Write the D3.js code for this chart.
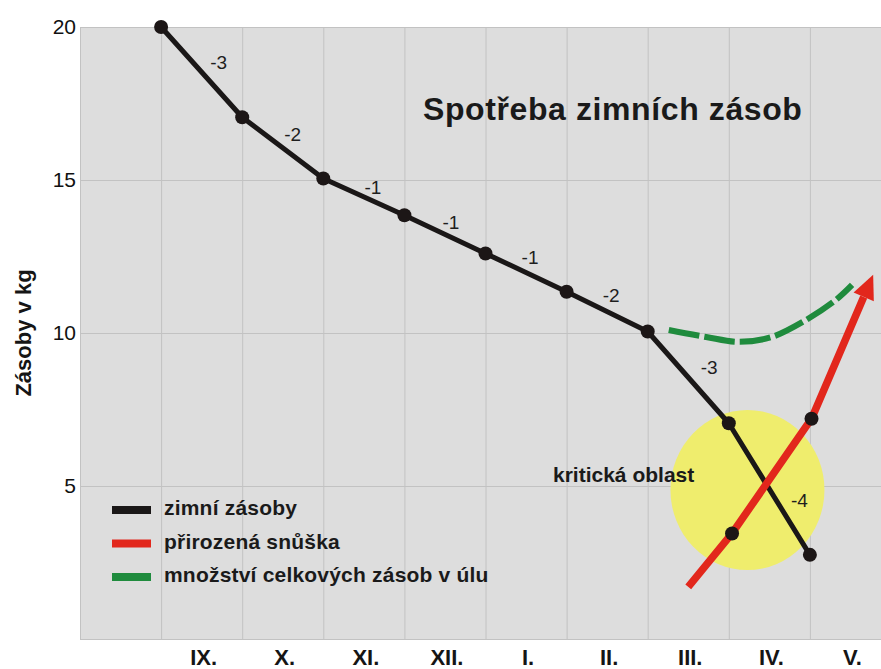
<!DOCTYPE html>
<html>
<head>
<meta charset="utf-8">
<title>Spotřeba zimních zásob</title>
<style>
    body { margin: 0; background: #fff; }
    svg { display: block; font-family: "Liberation Sans", Arial, sans-serif; }
</style>
<script src="https://d3js.org/d3.v7.min.js"></script>
</head>
<body>
<svg id="chart" width="881" height="669"></svg>
<script>
// months on the x axis (first column has no label)
var months = ["IX.", "X.", "XI.", "XII.", "I.", "II.", "III.", "IV.", "V."];
var yTicks = [5, 10, 15, 20];

// winter stores, one point at the start of each month
var storeMonth = [0, 1, 2, 3, 4, 5, 6, 7, 8];
var storeKg = [20, 17.05, 15.05, 13.85, 12.6, 11.35, 10.05, 7.05, 2.75];
var storeDiff = ["-3", "-2", "-1", "-1", "-1", "-2", "-3", "-4"];

// natural nectar flow (red arrow)
var flowMonth = [6.5, 7.04, 8.02, 8.78];
var flowKg = [1.7, 3.45, 7.2, 11.9];
var flowDots = [1, 2];

// total stores in the hive (green dashed)
var totalMonth = [6.26, 6.72, 7.13, 7.53, 7.93, 8.32, 8.52];
var totalKg = [10.1, 9.87, 9.71, 9.87, 10.39, 11.08, 11.57];

// critical area
var criticalMonth = 7.23;
var criticalKg = 4.87;

var legendLabels = ["zimní zásoby", "přirozená snůška", "množství celkových zásob v úlu"];
var legendColors = ["#1a1717", "#e2271c", "#1f8b3d"];

var svg = d3.select("#chart");
var plotLeft = 80, plotTop = 27, plotRight = 891, plotBottom = 639;

var x = d3.scaleLinear().domain([-1, 9]).range([plotLeft, plotRight]);
var y = d3.scaleLinear().domain([0, 20]).range([plotBottom, plotTop]);
var xBand = d3.scaleBand().domain(months).range([x(0), x(9)]);

// plot background
svg.append("rect")
    .attr("x", plotLeft).attr("y", plotTop)
    .attr("width", plotRight - plotLeft).attr("height", plotBottom - plotTop)
    .attr("fill", "#dddddd");

// grid
svg.append("g")
    .attr("transform", "translate(0," + plotBottom + ")")
    .call(d3.axisBottom(x).tickValues(d3.range(-1, 10)).tickSize(-(plotBottom - plotTop)).tickFormat(""))
    .call(function(g) { g.select(".domain").remove(); })
    .selectAll("line").attr("stroke", "#c2c2c2");

svg.append("g")
    .attr("transform", "translate(" + plotLeft + ",0)")
    .call(d3.axisLeft(y).tickValues([0, 5, 10, 15, 20]).tickSize(-(plotRight - plotLeft)).tickFormat(""))
    .call(function(g) { g.select(".domain").remove(); })
    .selectAll("line").attr("stroke", "#c2c2c2");

// y tick labels
svg.append("g")
    .attr("transform", "translate(" + plotLeft + ",0)")
    .call(d3.axisLeft(y).tickValues(yTicks).tickSize(0).tickPadding(4))
    .call(function(g) { g.select(".domain").remove(); })
    .selectAll("text")
    .attr("font-size", "21px")
    .attr("font-family", "'Liberation Sans', Arial, sans-serif")
    .attr("fill", "#111");

// x labels
svg.append("g")
    .attr("transform", "translate(2," + plotBottom + ")")
    .call(d3.axisBottom(xBand).tickSize(0).tickPadding(10))
    .call(function(g) { g.select(".domain").remove(); })
    .selectAll("text")
    .attr("font-size", "22px")
    .attr("font-weight", "bold")
    .attr("font-family", "'Liberation Sans', Arial, sans-serif")
    .attr("fill", "#151515");

// y title
svg.append("text")
    .attr("transform", "translate(31," + y(10) + ") rotate(-90)")
    .attr("text-anchor", "middle")
    .attr("font-size", "22px")
    .attr("font-weight", "bold")
    .attr("fill", "#151515")
    .text("Zásoby v kg");

// critical area
svg.append("ellipse")
    .attr("cx", x(criticalMonth))
    .attr("cy", y(criticalKg))
    .attr("rx", 77)
    .attr("ry", 80)
    .attr("fill", "#efed6d");

// green dashed curve
var totalData = totalMonth.map(function(m, i) { return [m, totalKg[i]]; });
svg.append("path")
    .datum(totalData)
    .attr("fill", "none")
    .attr("stroke", legendColors[2])
    .attr("stroke-width", 6)
    .attr("stroke-dasharray", "31,5")
    .attr("d", d3.line()
        .x(function(d) { return x(d[0]); })
        .y(function(d) { return y(d[1]); })
        .curve(d3.curveCatmullRom));

// black stores line
var storeData = storeMonth.map(function(m, i) { return [m, storeKg[i]]; });
svg.append("path")
    .datum(storeData)
    .attr("fill", "none")
    .attr("stroke", legendColors[0])
    .attr("stroke-width", 5)
    .attr("stroke-linejoin", "round")
    .attr("d", d3.line()
        .x(function(d) { return x(d[0]); })
        .y(function(d) { return y(d[1]); }));

// red arrow: shorten the line so the head carries the tip
var flowPx = flowMonth.map(function(m, i) { return [x(m), y(flowKg[i])]; });
var tip = flowPx[flowPx.length - 1];
var prev = flowPx[flowPx.length - 2];
var dx = tip[0] - prev[0], dy = tip[1] - prev[1];
var len = Math.sqrt(dx * dx + dy * dy);
var ux = dx / len, uy = dy / len;
var headLen = 24, headHalf = 11;
var base = [tip[0] - ux * headLen, tip[1] - uy * headLen];
var linePx = flowPx.slice(0, -1).concat([base]);

svg.append("path")
    .attr("fill", "none")
    .attr("stroke", legendColors[1])
    .attr("stroke-width", 7.5)
    .attr("stroke-linejoin", "round")
    .attr("d", d3.line()(linePx));

svg.append("path")
    .attr("fill", legendColors[1])
    .attr("d", d3.line()([
        tip,
        [base[0] - uy * headHalf, base[1] + ux * headHalf],
        [base[0] + uy * headHalf, base[1] - ux * headHalf]
    ]) + "Z");

// dots
svg.append("g")
    .selectAll("circle")
    .data(storeData)
    .enter()
    .append("circle")
    .attr("cx", function(d) { return x(d[0]); })
    .attr("cy", function(d) { return y(d[1]); })
    .attr("r", 7)
    .attr("fill", "#1c1616");

svg.append("g")
    .selectAll("circle")
    .data(flowDots)
    .enter()
    .append("circle")
    .attr("cx", function(d) { return x(flowMonth[d]); })
    .attr("cy", function(d) { return y(flowKg[d]); })
    .attr("r", 7)
    .attr("fill", "#1c1616");

// difference labels next to each segment
var diffNudge = [[17, -10], [10, -14], [9, -10], [6, -12], [4, -15], [4, -16], [21, -10], [30, 11]];
svg.append("g")
    .selectAll("text")
    .data(storeDiff)
    .enter()
    .append("text")
    .attr("x", function(d, i) { return (x(storeMonth[i]) + x(storeMonth[i + 1])) / 2 + diffNudge[i][0]; })
    .attr("y", function(d, i) { return (y(storeKg[i]) + y(storeKg[i + 1])) / 2 + diffNudge[i][1]; })
    .attr("dy", "0.36em")
    .attr("text-anchor", "middle")
    .attr("font-size", "19px")
    .attr("fill", "#1e1e1e")
    .text(function(d) { return d; });

// critical area label
svg.append("text")
    .attr("x", 553)
    .attr("y", 482)
    .attr("font-size", "21px")
    .attr("font-weight", "bold")
    .attr("fill", "#1a1a1a")
    .text("kritická oblast");

// title
svg.append("text")
    .attr("x", 423)
    .attr("y", 120)
    .attr("font-size", "32px")
    .attr("font-weight", "bold")
    .attr("letter-spacing", "0.6px")
    .attr("fill", "#1a1a1a")
    .text("Spotřeba zimních zásob");

// legend
var legend = svg.append("g")
    .selectAll("g")
    .data(legendLabels)
    .enter()
    .append("g")
    .attr("transform", function(d, i) { return "translate(112," + (515 + i * 33.5) + ")"; });

legend.append("rect")
    .attr("x", 0).attr("y", -9)
    .attr("width", 39).attr("height", 8)
    .attr("fill", function(d, i) { return legendColors[i]; });

legend.append("text")
    .attr("x", 52)
    .attr("y", 0)
    .attr("font-size", "21px")
    .attr("font-weight", "bold")
    .attr("letter-spacing", "0.2px")
    .attr("fill", "#1a1a1a")
    .text(function(d) { return d; });
</script>
</body>
</html>
